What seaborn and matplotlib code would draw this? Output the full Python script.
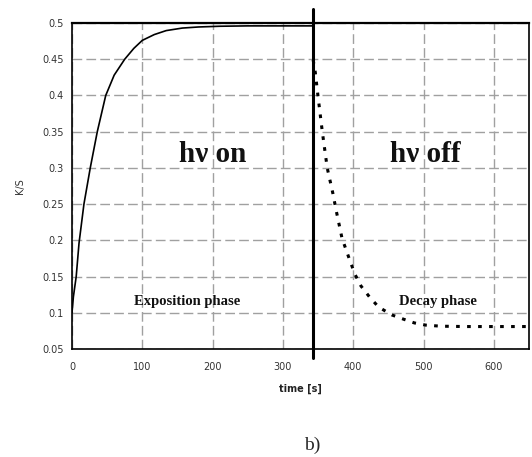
import matplotlib
matplotlib.use("Agg")
import matplotlib.pyplot as plt
import seaborn as sns

# exposition phase (light on)
t_on = [0, 2, 6, 10, 17, 26, 36, 48, 60, 75, 88, 100, 117, 134, 157, 180, 210, 250, 300, 343]
ks_on = [0.100, 0.122, 0.150, 0.196, 0.250, 0.300, 0.350, 0.400, 0.428, 0.450,
         0.465, 0.476, 0.484, 0.4895, 0.493, 0.4945, 0.4955, 0.496, 0.496, 0.496]

# decay phase (light off)
t_off = [343, 346, 350, 356, 363, 371, 376, 384, 396, 403, 411, 423, 436, 455,
         472, 487, 503, 524, 560, 600, 650]
ks_off = [0.449, 0.432, 0.398, 0.350, 0.300, 0.265, 0.240, 0.203, 0.170, 0.152,
          0.137, 0.122, 0.108, 0.097, 0.091, 0.086, 0.083, 0.0815, 0.081, 0.081, 0.081]

switch_time = 343
x_ticks = [0, 100, 200, 300, 400, 500, 600]
y_ticks = [0.05, 0.1, 0.15, 0.2, 0.25, 0.3, 0.35, 0.4, 0.45, 0.5]
y_ticklabels = ["0.05", "0.1", "0.15", "0.2", "0.25", "0.3", "0.35", "0.4", "0.45", "0.5"]

sns.set_style("white")
plt.rcParams["font.family"] = ["DejaVu Sans"]

fig = plt.figure(figsize=(5.32, 4.57), dpi=100)
ax = fig.add_axes([0.1353, 0.2363, 0.8591, 0.7134])

sns.lineplot(x=t_on, y=ks_on, ax=ax, color="black", lw=1.2, sort=False)
sns.lineplot(x=t_off, y=ks_off, ax=ax, color="black", lw=2.2, sort=False,
             linestyle=(0, (1.2, 2.4)))

ax.axvline(switch_time, ymin=-0.028, ymax=1.043, color="black", lw=2.2, clip_on=False)

ax.set_xlim(0, 650)
ax.set_ylim(0.05, 0.5)
ax.set_xticks(x_ticks)
ax.set_yticks(y_ticks)
ax.set_yticklabels(y_ticklabels)
ax.grid(True, color="#a0a0a0", ls=(0, (7, 3)), lw=1)
ax.set_axisbelow(True)

for s in ax.spines.values():
    s.set_color("black")
    s.set_linewidth(1.2)
ax.spines["top"].set_linewidth(1.6)

ax.tick_params(axis="both", direction="out", length=3, width=1, color="black",
               labelsize=7, labelcolor="#333333")
ax.tick_params(axis="x", pad=6)
ax.tick_params(axis="y", pad=3)

ax.set_xlabel("time [s]", fontsize=7, fontweight="bold", color="#222222", labelpad=9)
ax.set_ylabel("K/S", fontsize=7, color="#333333", labelpad=12)

serif = ["Liberation Serif", "DejaVu Serif"]
ax.text(200, 0.318, "h\u03bd on", fontsize=21, fontweight="bold", family=serif,
        ha="center", va="center", color="#111111")
ax.text(503, 0.318, "h\u03bd off", fontsize=21, fontweight="bold", family=serif,
        ha="center", va="center", color="#111111")
ax.text(164, 0.115, "Exposition phase", fontsize=10.5, fontweight="bold", family=serif,
        ha="center", va="center", color="#111111")
ax.text(520, 0.115, "Decay phase", fontsize=10.5, fontweight="bold", family=serif,
        ha="center", va="center", color="#111111")

fig.text(312 / 532, 1 - 445 / 457, "b)", fontsize=14, family=serif, ha="center", va="center")

fig.savefig("out.png", dpi=100)
